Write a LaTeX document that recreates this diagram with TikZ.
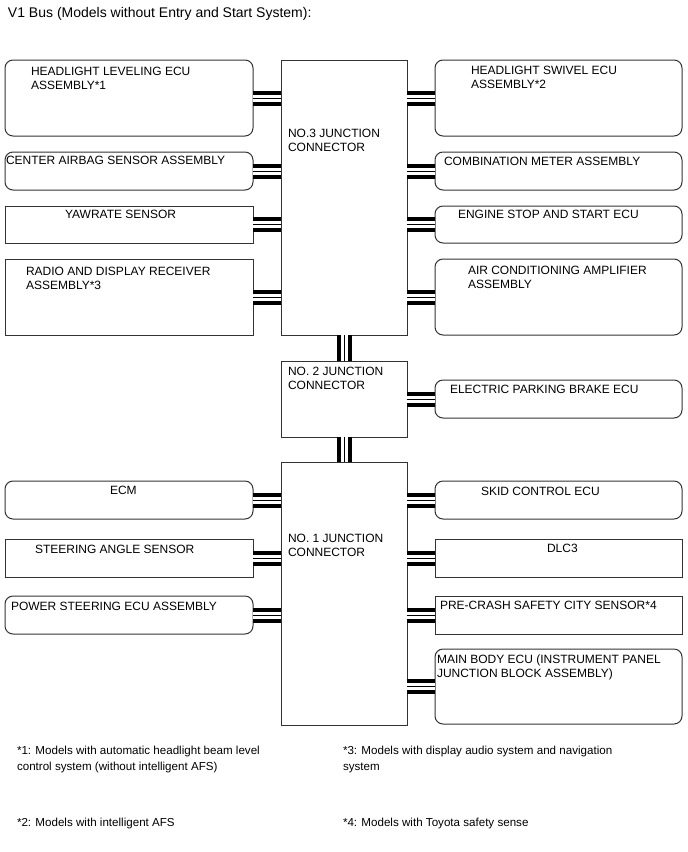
\documentclass[tikz,border=0pt]{standalone}
\usepackage{fontspec}
\setmainfont{Liberation Sans}
\begin{document}
\begin{tikzpicture}[x=1pt, y=-1pt,
  every node/.style={font=\fontsize{12}{14}\selectfont, inner sep=0pt, outer sep=0pt},
  box/.style={draw=black!80, line width=1pt, anchor=north west, minimum width=248, minimum height=#1},
  rbox/.style={box=#1, rounded corners=8pt},
  jc/.style={box=#1, minimum width=126},
  lbl/.style={anchor=base west, align=left},
  note/.style={anchor=base west, align=left, font=\fontsize{11.6}{16}\selectfont},
  bus/.style={line width=15pt, postaction={draw=white, line width=7pt}, postaction={draw, line width=0.8pt}}]
  \useasboundingbox (0,0) rectangle (688,852);
  \node[anchor=base west, font=\fontsize{14}{16}\selectfont] (title) at (8,17) {V1 Bus (Models without Entry and Start System):};
  % junction connectors
  \node[jc=275] (j3) at (281,60) {};
  \node[jc=76] (j2) at (281,361) {};
  \node[jc=263] (j1) at (281,462) {};
  \node[lbl] (j3t) at (288,151) {NO.3 JUNCTION\\CONNECTOR};
  \node[lbl] (j2t) at (288,389) {NO. 2 JUNCTION\\CONNECTOR};
  \node[lbl] (j1t) at (288,556) {NO. 1 JUNCTION\\CONNECTOR};
  % left side
  \node[rbox=76] (hlecu) at (5,60) {};
  \node[rbox=38] (airbag) at (5,152) {};
  \node[box=37] (yaw) at (5,206) {};
  \node[box=76] (radio) at (5,259) {};
  \node[rbox=38] (ecm) at (5,481) {};
  \node[box=38] (steer) at (5,539) {};
  \node[rbox=38] (eps) at (5,596) {};
  \node[lbl] (hlecut) at (31,89) {HEADLIGHT LEVELING ECU\\ASSEMBLY*1};
  \node[lbl] (airbagt) at (6,164) {CENTER AIRBAG SENSOR ASSEMBLY};
  \node[lbl] (yawt) at (65,218) {YAWRATE SENSOR};
  \node[lbl] (radiot) at (26,289) {RADIO AND DISPLAY RECEIVER\\ASSEMBLY*3};
  \node[lbl] (ecmt) at (110,494) {ECM};
  \node[lbl] (steert) at (35,553) {STEERING ANGLE SENSOR};
  \node[lbl] (epst) at (11,610) {POWER STEERING ECU ASSEMBLY};
  % right side
  \node[rbox=76, minimum width=247] (swivel) at (435,60) {};
  \node[rbox=38, minimum width=247] (meter) at (435,152) {};
  \node[rbox=37, minimum width=247] (engss) at (435,206) {};
  \node[rbox=76, minimum width=247] (aircon) at (435,259) {};
  \node[rbox=38, minimum width=247] (epb) at (435,380) {};
  \node[rbox=38, minimum width=247] (skid) at (435,481) {};
  \node[box=38, minimum width=247] (dlc) at (435,539) {};
  \node[box=38, minimum width=247] (pcs) at (435,596) {};
  \node[rbox=75, minimum width=247] (mainbody) at (435,649) {};
  \node[lbl] (swivelt) at (471,88) {HEADLIGHT SWIVEL ECU\\ASSEMBLY*2};
  \node[lbl] (metert) at (444,165) {COMBINATION METER ASSEMBLY};
  \node[lbl] (engsst) at (458,218) {ENGINE STOP AND START ECU};
  \node[lbl] (aircont) at (468,288) {AIR CONDITIONING AMPLIFIER\\ASSEMBLY};
  \node[lbl] (epbt) at (450,393) {ELECTRIC PARKING BRAKE ECU};
  \node[lbl] (skidt) at (481,495) {SKID CONTROL ECU};
  \node[lbl] (dlct) at (547,552) {DLC3};
  \node[lbl] (pcst) at (440,609) {PRE-CRASH SAFETY CITY SENSOR*4};
  \node[lbl] (mainbodyt) at (437,677) {MAIN BODY ECU (INSTRUMENT PANEL\\JUNCTION BLOCK ASSEMBLY)};
  % bus lines
  \foreach \b in {hlecu,airbag,yaw,radio} \draw[bus] (\b.east) -- (\b.east -| j3.west);
  \foreach \b in {swivel,meter,engss,aircon} \draw[bus] (\b.west) -- (\b.west -| j3.east);
  \draw[bus] (epb.west) -- (epb.west -| j2.east);
  \foreach \b in {ecm,steer,eps} \draw[bus] (\b.east) -- (\b.east -| j1.west);
  \foreach \b in {skid,dlc,pcs,mainbody} \draw[bus] (\b.west) -- (\b.west -| j1.east);
  \draw[bus] (j3.south) -- (j2.north);
  \draw[bus] (j2.south) -- (j1.north);
  % notes
  \node[note] (n1) at (17,770) {*1: Models with automatic headlight beam level\\control system (without intelligent AFS)};
  \node[note] (n3) at (343,770) {*3: Models with display audio system and navigation\\system};
  \node[note] (n2) at (17,826) {*2: Models with intelligent AFS};
  \node[note] (n4) at (343,826) {*4: Models with Toyota safety sense};
\end{tikzpicture}
\end{document}
